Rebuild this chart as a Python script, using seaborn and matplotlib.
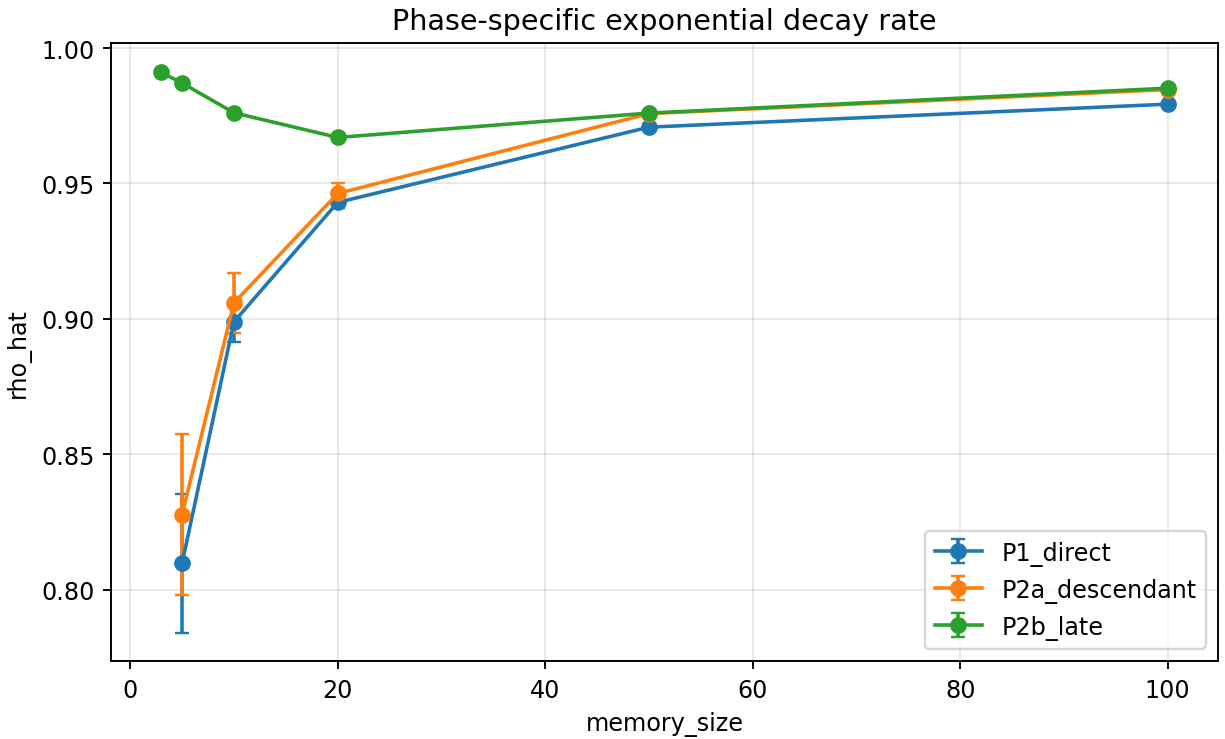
import matplotlib
matplotlib.use("Agg")
import matplotlib.pyplot as plt
import seaborn as sns
import numpy as np

# Data
phases = ["P1_direct", "P2a_descendant", "P2b_late"]
x_p1 = [5, 10, 20, 50, 100]
y_p1 = [0.8097, 0.8989, 0.9430, 0.9708, 0.9793]
e_p1 = [0.0257, 0.0074, 0.0020, 0.0010, 0.0008]

x_p2a = [5, 10, 20, 50, 100]
y_p2a = [0.8277, 0.9059, 0.9463, 0.9758, 0.9847]
e_p2a = [0.0298, 0.0112, 0.0040, 0.0010, 0.0008]

x_p2b = [3, 5, 10, 20, 50, 100]
y_p2b = [0.9910, 0.9871, 0.9761, 0.9670, 0.9760, 0.9852]
e_p2b = [0.0005, 0.0005, 0.0005, 0.0006, 0.0005, 0.0005]

title = "Phase-specific exponential decay rate"
xlabel = "memory_size"
ylabel = "rho_hat"

plt.rcParams['font.family'] = ['DejaVu Sans']
colors = sns.color_palette("tab10", 3)

DPI = 172
fig, ax = plt.subplots(figsize=(1225/DPI, 740/DPI), dpi=DPI)
fig.subplots_adjust(left=0.0906, right=0.9943, top=0.9405, bottom=0.1054)

for name, xs, ys, es, c in zip(phases, [x_p1, x_p2a, x_p2b], [y_p1, y_p2a, y_p2b],
                                [e_p1, e_p2a, e_p2b], colors):
    ax.errorbar(xs, ys, yerr=es, marker="o", capsize=3, color=c, label=name,
                markersize=6, linewidth=1.5)

ax.set_title(title)
ax.set_xlabel(xlabel)
ax.set_ylabel(ylabel)
ax.grid(True, alpha=0.3)
ax.legend(loc="lower right")

fig.savefig("out.png", dpi=DPI)
